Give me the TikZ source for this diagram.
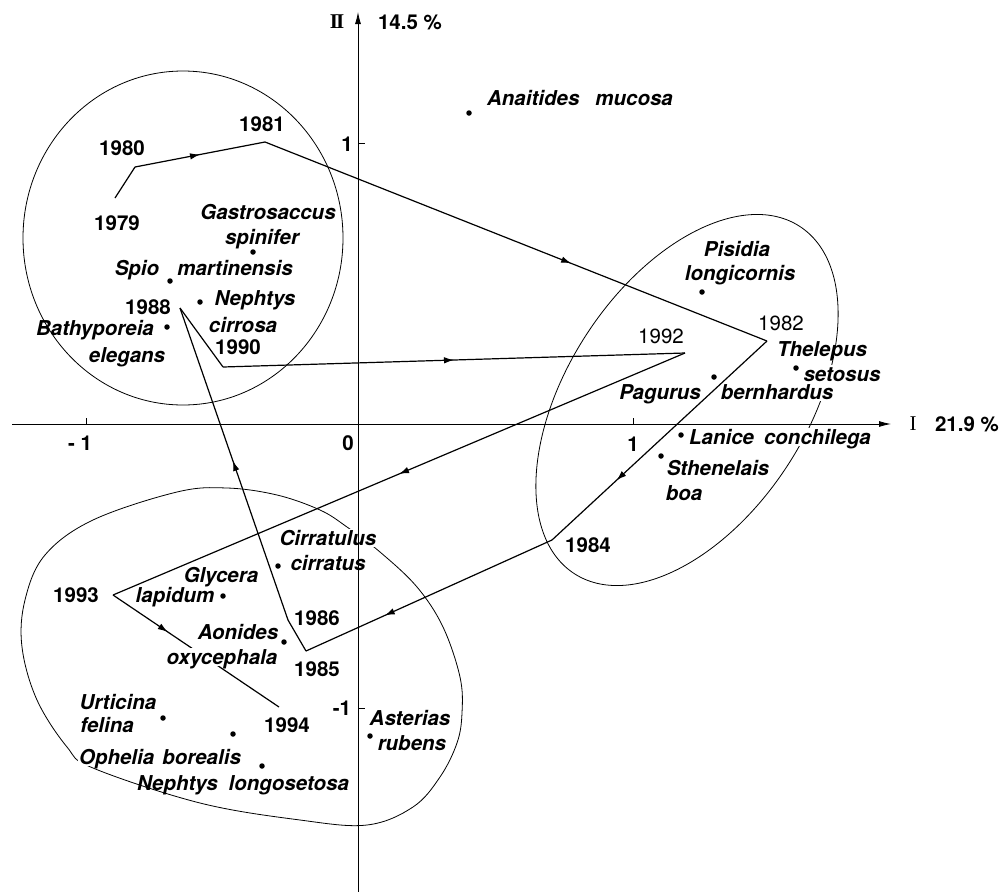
\documentclass[tikz,border=0pt]{standalone}
\usepackage{fontspec}
\setmainfont{TeX Gyre Heros}
\newfontfamily\romanfont{Liberation Serif}
\usetikzlibrary{arrows.meta,decorations.markings}
\tikzset{
  sp/.style={font=\fontsize{20.5}{22}\selectfont\bfseries\itshape, inner sep=0pt, text height=14pt, text depth=0pt},
  yr/.style={font=\fontsize{20.5}{22}\selectfont\bfseries, inner sep=0pt, text height=14pt, text depth=0pt},
  yrl/.style={font=\fontsize{20.5}{22}\selectfont, inner sep=0pt, text height=14pt, text depth=0pt},
  wgap/.style={fill=white, inner xsep=1pt, inner ysep=2pt},
  spdot/.style={circle, fill=black, inner sep=0pt, minimum size=5.5pt},
  traj/.style={line width=1.2pt, line join=miter},
  hull/.style={line width=0.8pt},
  axline/.style={line width=0.8pt},
  midarrow/.style={postaction=decorate, decoration={markings, mark=at position #1 with {\arrow{Latex[length=10pt,width=6.5pt]}}}},
}
\begin{document}
\begin{tikzpicture}[x=1pt,y=-1pt]
\useasboundingbox (0,0) rectangle (1002,892);
% trajectory points
\coordinate (y79) at (115,198);
\coordinate (y80) at (135,167);
\coordinate (y81) at (265,142);
\coordinate (y82) at (767,341);
\coordinate (y84) at (552,540);
\coordinate (y85) at (306,651);
\coordinate (y86) at (288,620);
\coordinate (y88) at (180,308);
\coordinate (y90) at (223,367);
\coordinate (y92) at (685,353);
\coordinate (y93) at (113,595);
\coordinate (y94) at (279,707);
% hulls
\draw[hull] (183,238) ellipse [x radius=160, y radius=167];
\draw[hull, rotate around={57:(687,400)}] (687,400) ellipse [x radius=207, y radius=120];
\draw[hull] plot[smooth cycle, tension=0.6] coordinates {(93,520) (177,492) (227,488) (277,495) (320,510) (347,527) (380,552) (417,587) (443,627) (460,677) (462,713) (457,743) (440,777) (413,807) (367,825) (300,820) (200,803) (93,768) (67,747) (37,700) (22,647) (25,600) (45,555)};
\draw[traj, midarrow=0.33] (y93) -- (y94);
% labels that interrupt lines
\node[sp, wgap] (cirr1) at (328,538) {Cirratulus};
\node[sp, wgap] (ophe) at (160,757) {Ophelia\hspace{8pt}borealis};
\node[sp, wgap] (aoni2) at (222,657) {oxycephala};
\node[sp, wgap] (thel2) at (842,374) {setosus};
\node[sp, wgap] (pagu2) at (777,392) {bernhardus};
\node[sp, wgap] (lani) at (780,437) {Lanice\hspace{10pt}conchilega};
% axes
\coordinate (hs) at (12,424);
\coordinate (he) at (891,424);
\coordinate (vs) at (358,892);
\coordinate (ve) at (358,12);
\draw[axline, -{Latex[length=12pt,width=6pt]}] (hs) -- (he);
\draw[axline, -{Latex[length=12pt,width=6pt]}] (vs) -- (ve);
\draw[axline] (86,424) -- (86,418);
\draw[axline] (633,424) -- (633,418);
\draw[axline] (358,143) -- (365,143);
\draw[axline] (358,708) -- (365,708);
\node[yr] (xm1) at (80,443) {- 1};
\node[yr] (x0) at (348,443) {0};
\node[yr] (x1) at (633,444) {1};
\node[yr] (yp1) at (347,144) {1};
\node[yr] (ym1) at (342,708) {-1};
\node[inner sep=0pt, font=\romanfont\fontsize{21}{22}\selectfont] (ax1) at (913,424) {I};
\node[yr] (ax1p) at (967,424) {21.9 \%};
\node[inner sep=0pt, font=\romanfont\bfseries\fontsize{21}{22}\selectfont] (ax2) at (337,22) {I\kern-2pt I};
\node[yr] (ax2p) at (410,22) {14.5 \%};
% trajectory
\draw[traj] (y79) -- (y80);
\draw[traj, midarrow=0.5] (y80) -- (y81);
\draw[traj, midarrow=0.61] (y81) -- (y82);
\draw[traj, midarrow=0.70] (y82) -- (y84);
\draw[traj, midarrow=0.68] (y84) -- (y85);
\draw[traj] (y85) -- (y86);
\draw[traj, midarrow=0.51] (y86) -- (y88);
\draw[traj] (y88) -- (y90);
\draw[traj, midarrow=0.5] (y90) -- (y92);
\draw[traj, midarrow=0.5] (y92) -- (y93);
% year labels
\node[yr] (t79) at (117,223) {1979};
\node[yr] (t80) at (122,148) {1980};
\node[yr] (t81) at (262,124) {1981};
\node[yrl] (t82) at (781,323) {1982};
\node[yr] (t84) at (588,545) {1984};
\node[yr] (t85) at (317,669) {1985};
\node[yr] (t86) at (317,618) {1986};
\node[yr] (t88) at (148,307) {1988};
\node[yr] (t90) at (238,347) {1990};
\node[yrl] (t92) at (661,336) {1992};
\node[yr] (t93) at (76,595) {1993};
\node[yr] (t94) at (287,725) {1994};
% species
\node[spdot] (d1) at (469,113) {};
\node[sp] (anai) at (580,98) {Anaitides\hspace{16pt}mucosa};
\node[spdot] (d2) at (253,252) {};
\node[sp] (gast1) at (268,212) {Gastrosaccus};
\node[sp] (gast2) at (262,237) {spinifer};
\node[spdot] (d3) at (170,281) {};
\node[sp] (spio1) at (137,268) {Spio};
\node[sp] (spio2) at (235,268) {martinensis};
\node[spdot] (d4) at (200,302) {};
\node[sp] (neph1) at (255,298) {Nephtys};
\node[sp] (neph2) at (243,325) {cirrosa};
\node[spdot] (d5) at (167,327) {};
\node[sp] (bath1) at (95,328) {Bathyporeia};
\node[sp] (bath2) at (127,355) {elegans};
\node[spdot] (d6) at (702,292) {};
\node[sp] (pisi1) at (737,249) {Pisidia};
\node[sp] (pisi2) at (740,273) {longicornis};
\node[spdot] (d7) at (796,368) {};
\node[sp] (thel1) at (822,349) {Thelepus};
\node[spdot] (d8) at (714,377) {};
\node[sp] (pagu1) at (660,392) {Pagurus};
\node[spdot] (d9) at (681,435) {};
\node[spdot] (d10) at (661,456) {};
\node[sp] (sthe1) at (718,468) {Sthenelais};
\node[sp] (sthe2) at (684,493) {boa};
\node[spdot] (d11) at (278,566) {};
\node[sp] (cirr2) at (328,563) {cirratus};
\node[spdot] (d12) at (223,596) {};
\node[sp] (glyc1) at (221,575) {Glycera};
\node[sp] (glyc2) at (175,595) {lapidum};
\node[spdot] (d13) at (284,642) {};
\node[sp] (aoni1) at (238,632) {Aonides};
\node[spdot] (d14) at (163,718) {};
\node[sp] (urti1) at (118,702) {Urticina};
\node[sp] (urti2) at (107,725) {felina};
\node[spdot] (d15) at (233,734) {};
\node[spdot] (d16) at (262,766) {};
\node[sp] (nelo) at (243,783) {Nephtys\hspace{11pt}longosetosa};
\node[spdot] (d17) at (370,736) {};
\node[sp] (aste1) at (410,718) {Asterias};
\node[sp] (aste2) at (412,743) {rubens};
\end{tikzpicture}
\end{document}
